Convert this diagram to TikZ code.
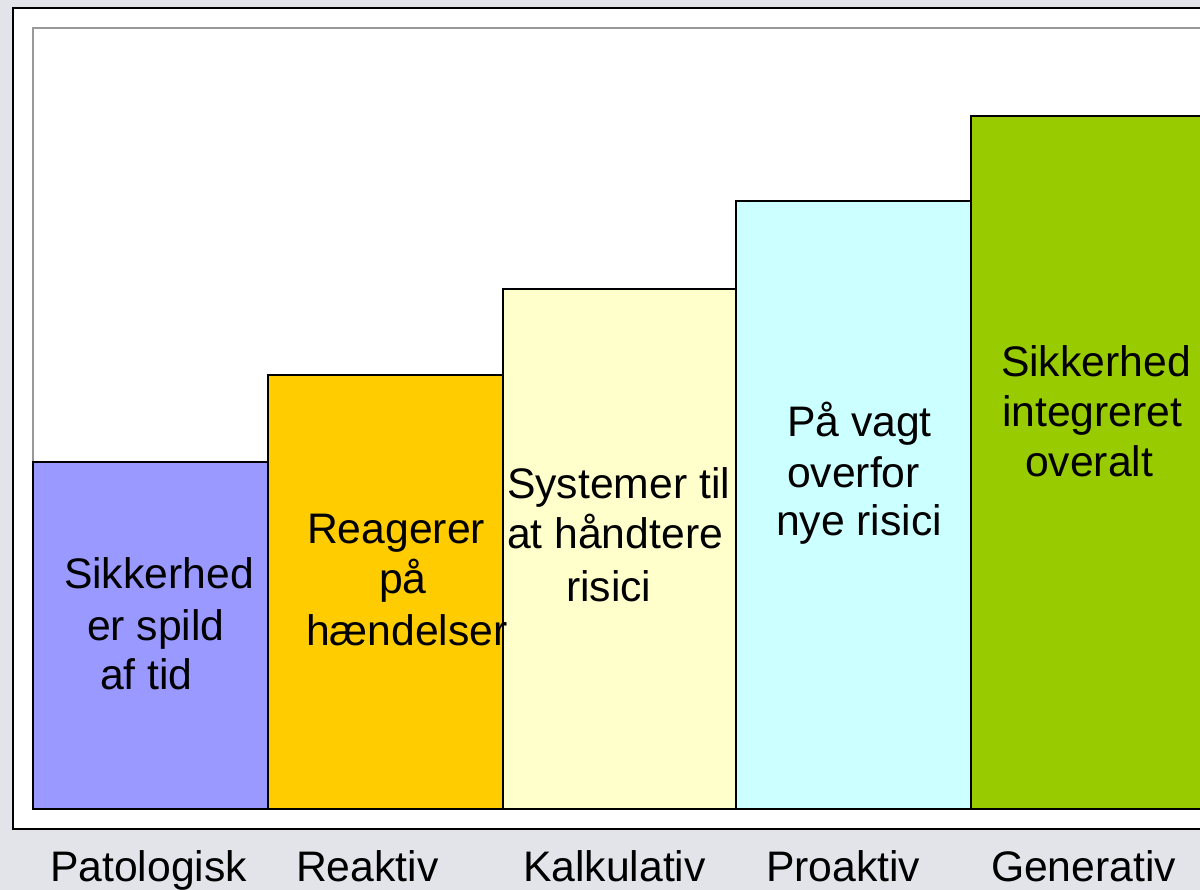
\documentclass[tikz,border=0pt]{standalone}
\usepackage{fontspec}
\setmainfont{Liberation Sans}
\definecolor{bgc}{HTML}{E3E3EA}
\definecolor{c1}{HTML}{9999FF}
\definecolor{c2}{HTML}{FFCC00}
\definecolor{c3}{HTML}{FFFFCC}
\definecolor{c4}{HTML}{CCFFFF}
\definecolor{c5}{HTML}{99CC00}
\tikzset{
  bar/.style={draw=black, line width=1.4pt},
  txt/.style={anchor=base west, inner sep=0pt, outer sep=0pt, font=\fontsize{42.7pt}{50pt}\selectfont, text=black},
}
\begin{document}
\begin{tikzpicture}[x=1pt,y=-1pt]
\useasboundingbox (0,0) rectangle (1200,890);
\clip (0,0) rectangle (1200,890);
\fill[bgc] (0,0) rectangle (1200,890);
\draw[black, line width=2.2pt, fill=white] (13,8) rectangle (1226,829);
\draw[black!40, line width=2pt] (33,28) rectangle (1206,809);
\draw[bar, fill=c1] (33,462) rectangle (268,809);
\draw[bar, fill=c2] (268,375) rectangle (503,809);
\draw[bar, fill=c3] (503,289) rectangle (736,809);
\draw[bar, fill=c4] (736,201) rectangle (971,809);
\draw[bar, fill=c5] (971,116) rectangle (1208,809);
% bar texts
\node[txt] (a1) at (64,588) {Sikkerhed};
\node[txt] (a2) at (87,640) {er spild};
\node[txt] (a3) at (100,689) {af tid};
\node[txt] (b1) at (307,543) {Reagerer};
\node[txt] (b2) at (379,593) {på};
\node[txt] (b3) at (306,645) {hændelser};
\node[txt] (c1t) at (507,498) {Systemer til};
\node[txt] (c2t) at (507,548) {at håndtere};
\node[txt] (c3t) at (566,601) {risici};
\node[txt] (d1) at (787,437) {På vagt};
\node[txt] (d2) at (787,487) {overfor};
\node[txt] (d3) at (776,535) {nye risici};
\node[txt] (e1) at (1001,377) {Sikkerhed};
\node[txt] (e2) at (1002,427) {integreret};
\node[txt] (e3) at (1025,477) {overalt};
% axis labels
\node[txt] (l1) at (50,881) {Patologisk};
\node[txt] (l2) at (296,881) {Reaktiv};
\node[txt] (l3) at (523,881) {Kalkulativ};
\node[txt] (l4) at (766,881) {Proaktiv};
\node[txt] (l5) at (991,881) {Generativ};
\end{tikzpicture}
\end{document}
